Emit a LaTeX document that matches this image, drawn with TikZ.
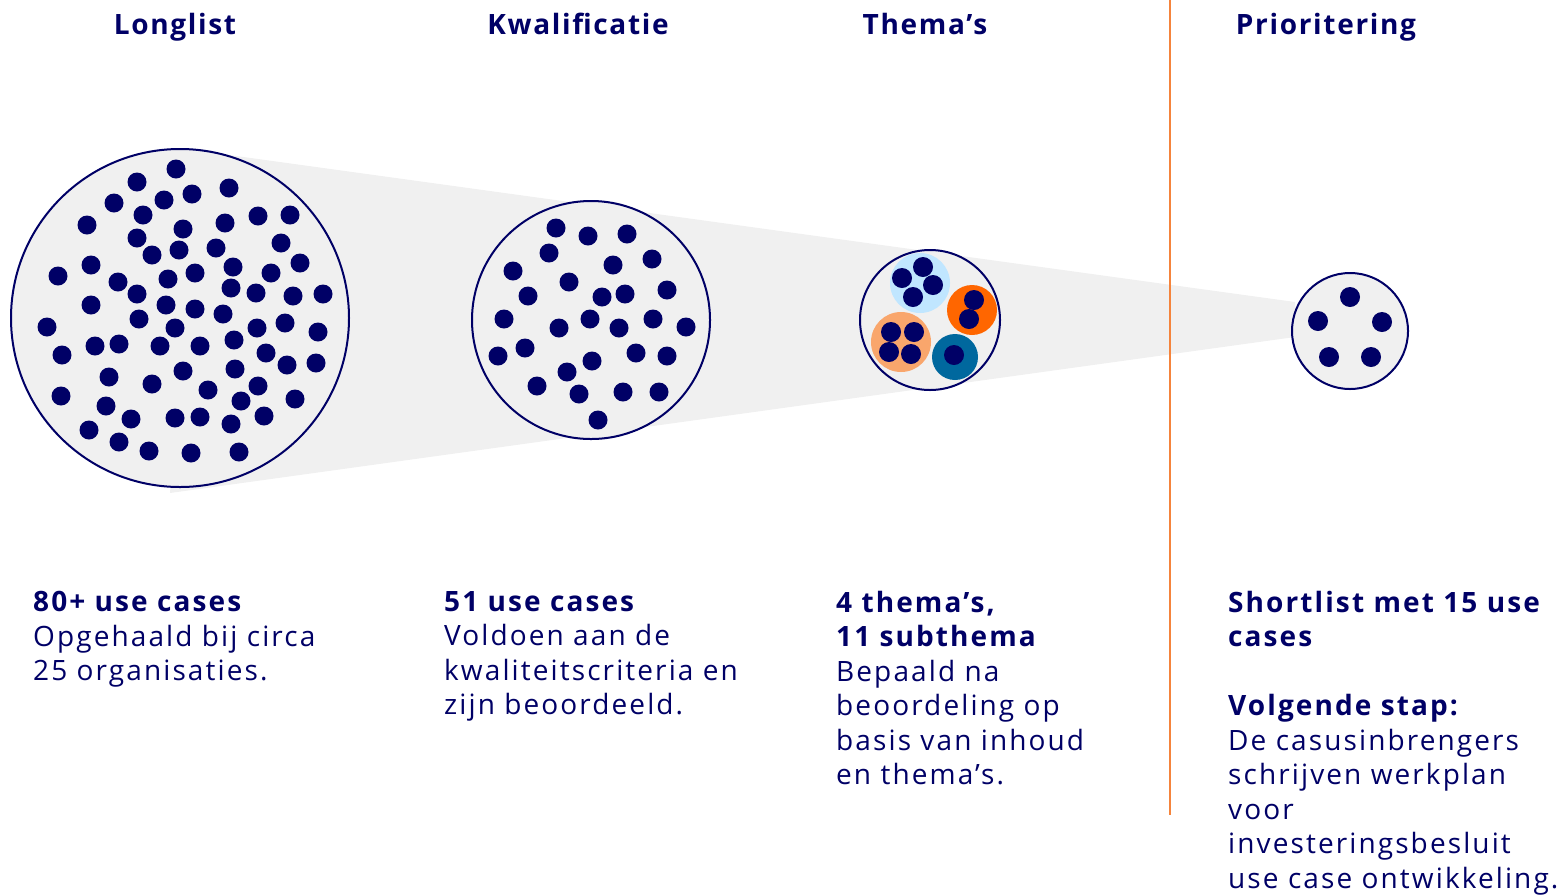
\documentclass[tikz,border=0pt]{standalone}
\usepackage{fontspec}
\setmainfont{Open Sans}
\usetikzlibrary{positioning}
\definecolor{navy}{HTML}{000066}
\definecolor{vlak}{HTML}{F0F0F0}
\definecolor{lichtblauw}{HTML}{C0E6FF}
\definecolor{oranje}{HTML}{FF6600}
\definecolor{zalm}{HTML}{F9A66C}
\definecolor{petrol}{HTML}{00689E}
\definecolor{lijnoranje}{HTML}{F5843C}
\begin{document}
\begin{tikzpicture}[x=1pt,y=-1pt,
  kop/.style={font=\fontsize{28}{34}\selectfont\bfseries\addfontfeatures{LetterSpace=6}, text=navy, anchor=base},
  tekst/.style={font=\fontsize{28}{34.5}\selectfont\addfontfeatures{LetterSpace=7.5}, text=navy, align=left, anchor=north west, inner sep=0pt},
  bol/.style={circle, fill=vlak, draw=navy, line width=2pt, inner sep=0pt},
  stip/.style={fill=navy}]
\useasboundingbox (0,0) rectangle (1560,895);

% trechter achter de bollen
\fill[vlak] (200,151) -- (1295,302) -- (1295,337) -- (170,493) -- cycle;

% scheidingslijn
\draw[lijnoranje, line width=2pt] (1170,0) -- (1170,815);

% kopjes
\node[kop] (longlist) at (175,34) {Longlist};
\node[kop] (kwal) at (578,34) {Kwalificatie};
\node[kop] (themas) at (925,34) {Thema’s};
\node[kop] (prio) at (1326,34) {Prioritering};

% bollen
\node[bol, minimum size=338pt] (b1) at (180,318) {};
\node[bol, minimum size=238pt] (b2) at (591,320) {};
\node[bol, minimum size=140pt] (b3) at (930,320) {};
\node[bol, minimum size=116pt] (b4) at (1350,331) {};

% longlist: 80+ use cases
\foreach \x/\y in {176/169,137/182,114/203,164/200,192/194,229/188,87/225,143/215,
  183/229,225/223,258/216,290/215,137/238,152/255,179/250,216/248,281/243,91/265,
  233/267,271/273,300/263,58/276,118/282,168/279,195/273,137/294,231/288,256/293,
  293/296,323/294,91/305,166/305,195/309,223/314,139/319,47/327,175/328,257/328,
  285/323,318/332,95/346,119/344,160/346,200/346,234/340,62/355,266/353,287/365,
  316/363,183/371,235/369,109/377,152/384,208/390,258/386,61/396,106/406,241/401,
  295/399,131/419,175/418,200/417,231/424,264/416,89/430,119/442,149/451,191/453,239/452}
  \fill[stip] (\x,\y) circle (9.5pt);

% kwalificatie
\foreach \x/\y in {556/228,588/236,627/234,549/253,513/271,613/265,652/259,569/282,
  528/296,602/297,625/294,667/290,504/319,590/319,559/328,619/328,653/319,686/327,
  498/356,525/348,592/361,636/353,667/356,567/372,537/386,579/394,623/392,659/392,598/420}
  \fill[stip] (\x,\y) circle (9.5pt);

% thema's met subthema's
\fill[lichtblauw] (920,283) circle (30pt);
\fill[oranje] (972,310) circle (25pt);
\fill[zalm] (901,342) circle (30pt);
\fill[petrol] (955,357) circle (23pt);
\foreach \x/\y in {923/267,902/278,933/285,913/297,974/300,969/319,
  891/332,914/332,889/352,911/354,954/355}
  \fill[stip] (\x,\y) circle (10pt);

% shortlist
\foreach \x/\y in {1350/297,1318/321,1382/322,1329/357,1371/357}
  \fill[stip] (\x,\y) circle (10pt);

% toelichting
\node[tekst] (t1) at (33,591) {\textbf{80+ use cases}\\Opgehaald bij circa\\25 organisaties.};
\node[tekst] (t2) at (444,591) {\textbf{51 use cases}\\Voldoen aan de\\kwaliteitscriteria en\\zijn beoordeeld.};
\node[tekst] (t3) at (836,591) {\textbf{4 thema’s,}\\\textbf{11 subthema}\\Bepaald na\\beoordeling op\\basis van inhoud\\en thema’s.};
\node[tekst] (t4) at (1228,591) {\textbf{Shortlist met 15 use}\\\textbf{cases}\\[34.5pt]\textbf{Volgende stap:}\\De casusinbrengers\\schrijven werkplan\\voor\\investeringsbesluit\\use case ontwikkeling.};
\end{tikzpicture}
\end{document}
